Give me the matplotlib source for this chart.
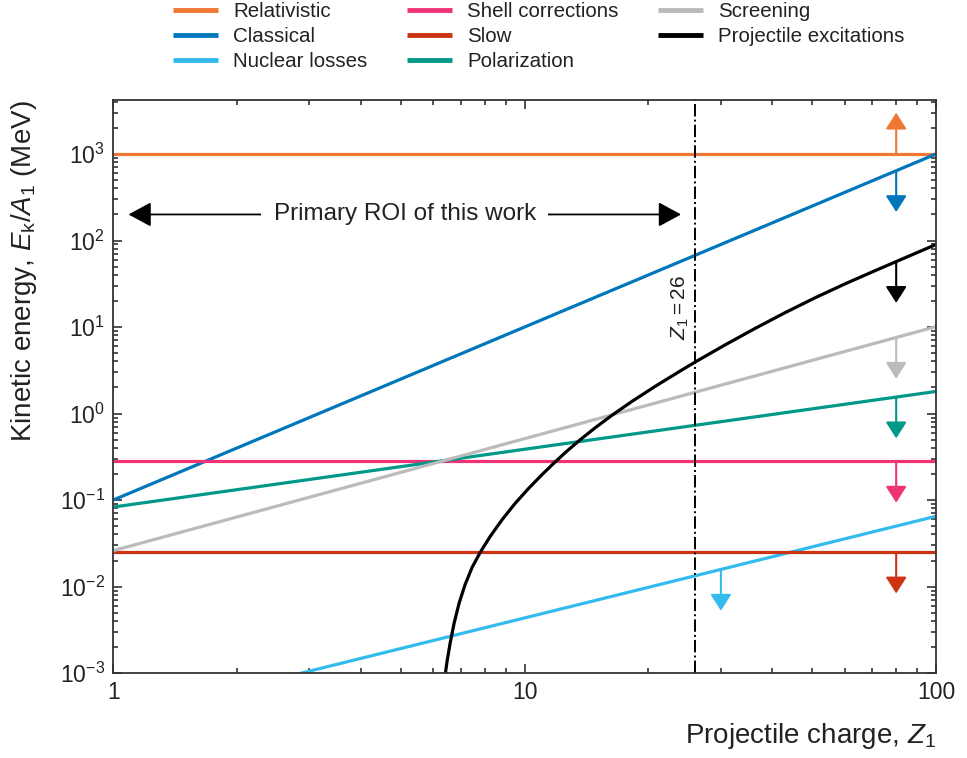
import numpy as np
import matplotlib.pyplot as plt
from matplotlib.ticker import LogLocator, NullFormatter

plt.rcParams['font.family'] = 'Liberation Sans'
plt.rcParams['mathtext.fontset'] = 'custom'
plt.rcParams['mathtext.rm'] = 'Liberation Sans'
plt.rcParams['mathtext.it'] = 'Liberation Sans:italic'
plt.rcParams['text.color'] = '#222222'
plt.rcParams['axes.labelcolor'] = '#222222'
plt.rcParams['xtick.labelcolor'] = '#222222'
plt.rcParams['ytick.labelcolor'] = '#222222'

# Dados (Z1, Ek/A1 em MeV)
z_edges = [1, 100]
relativistic = [1000, 1000]
classical = [0.1, 1000]
nuclear = [2.9e-4, 0.065]
shell = [0.28, 0.28]
slow = [0.025, 0.025]
polarization = [0.083, 1.8]
screening = [0.026, 10.1]

proj_z = [6.339, 6.410, 6.482, 6.592, 6.741, 6.932, 7.169, 7.456, 7.798,
          8.245, 8.817, 9.482, 10.20, 10.97, 11.73, 12.61, 13.64, 14.84,
          16.32, 18.25, 20.76, 23.88, 26.12, 30.70, 36.32, 42.96, 50.8,
          60.1, 71.1, 84.1, 100]
proj_e = [6.19e-4, 9.48e-4, 1.38e-3, 2.22e-3, 3.78e-3, 6.44e-3, 0.01057,
          0.0167, 0.0248, 0.0379, 0.0593, 0.0914, 0.1346, 0.1923, 0.262,
          0.3604, 0.4966, 0.684, 0.958, 1.384, 2.06, 3.10, 4.00, 6.21, 9.63,
          14.65, 21.76, 31.55, 44.8, 63.2, 90]

labels = ['Relativistic', 'Classical', 'Nuclear losses', 'Shell corrections',
          'Slow', 'Polarization', 'Screening', 'Projectile excitations']
colors = ['#ee7733', '#0077bb', '#33bbee', '#ee3377',
          '#cc3311', '#009988', '#bbbbbb', '#000000']
series_z = [z_edges] * 7 + [proj_z]
series_e = [relativistic, classical, nuclear, shell, slow, polarization,
            screening, proj_e]

# Setas de limite: posição em Z1 e sentido (+1 para cima, -1 para baixo)
arrow_z = [80, 80, 30, 80, 80, 80, 80, 80]
arrow_dir = [1, -1, -1, -1, -1, -1, -1, -1]
arrow_factor = 3

z_marker = 26
roi_z = [1.09, 24]
roi_e = 200

fig = plt.figure(figsize=(9.67, 7.58), dpi=100)
ax = fig.add_axes([0.117, 0.112, 0.851, 0.756])

for z, e, c, lab in zip(series_z, series_e, colors, labels):
    ax.plot(z, e, color=c, lw=2.3, label=lab, solid_capstyle='butt',
            solid_joinstyle='round')

for z, e, c, az, d in zip(series_z, series_e, colors, arrow_z, arrow_dir):
    e0 = 10 ** np.interp(np.log10(az), np.log10(z), np.log10(e))
    e1 = e0 * arrow_factor ** d
    ax.annotate('', xy=(az, e1), xytext=(az, e0),
                arrowprops=dict(arrowstyle='-|>,head_length=0.5,head_width=0.32',
                                mutation_scale=20, lw=1.5, color=c,
                                shrinkA=0, shrinkB=0))

ax.axvline(z_marker, color='k', lw=1.4, ls='-.')
ax.annotate(r'$Z_1 = %d$' % z_marker, xy=(z_marker, 17), xytext=(-3, 0),
            textcoords='offset points', rotation=90, ha='right', va='center',
            fontsize=15)

ax.annotate('', xy=(roi_z[0], roi_e), xytext=(roi_z[1], roi_e),
            arrowprops=dict(arrowstyle='<|-|>,head_length=0.7,head_width=0.38',
                            mutation_scale=20, lw=1.3, color='k',
                            shrinkA=0, shrinkB=0))
ax.text(np.sqrt(roi_z[0] * roi_z[1]), roi_e, 'Primary ROI of this work',
        ha='center', va='center', fontsize=17.5,
        bbox=dict(fc='white', ec='none', pad=9))

ax.set_xscale('log')
ax.set_yscale('log')
ax.set_xlim(1, 100)
ax.set_ylim(1e-3, 4200)
ax.set_xticks([1, 10, 100], ['1', '10', '100'])
ax.yaxis.set_major_locator(LogLocator(base=10, numticks=20))
ax.yaxis.set_minor_locator(LogLocator(base=10, subs=np.arange(2, 10), numticks=100))
ax.yaxis.set_minor_formatter(NullFormatter())
ax.xaxis.set_minor_formatter(NullFormatter())

ax.tick_params(which='both', direction='in', top=True, right=True,
               color='#333333', width=1.2, labelsize=16.5)
ax.tick_params(which='major', length=6.5)
ax.tick_params(which='minor', length=3.5)
ax.tick_params(axis='y', pad=6)
ax.tick_params(axis='x', pad=6)
for s in ax.spines.values():
    s.set_color('#333333')
    s.set_linewidth(1.3)

ax.set_xlabel('Projectile charge, $Z_1$', loc='right', fontsize=20, labelpad=12)
ax.set_ylabel(r'Kinetic energy, $E_\mathrm{k}/A_1$ (MeV)', loc='top',
              fontsize=20, labelpad=15)

leg = fig.legend(loc='upper center', bbox_to_anchor=(0.557, 1.008), ncol=3,
                 frameon=False, fontsize=14.8, handlelength=2.2,
                 handletextpad=0.75, columnspacing=1.9, labelspacing=0.3,
                 borderaxespad=0)
for line in leg.get_lines():
    line.set_linewidth(3.5)

fig.savefig('out.png', dpi=100)
